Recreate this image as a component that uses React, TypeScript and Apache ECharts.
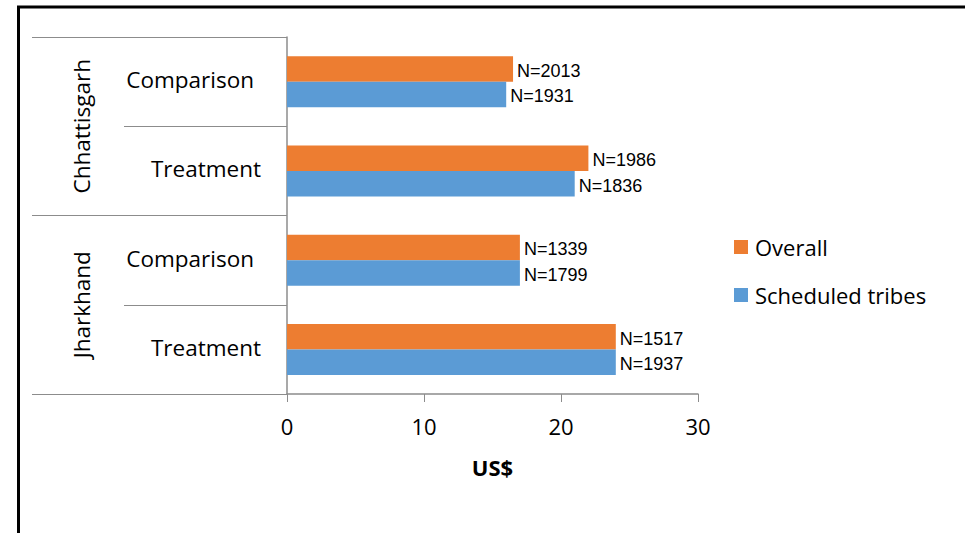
import React, { useEffect, useRef } from "react";
import * as echarts from "echarts";

const states = ["Chhattisgarh", "Jharkhand"];
const arms = ["Comparison", "Treatment"];
const seriesNames = ["Overall", "Scheduled tribes"];
const overallValues = [16.5, 22, 17, 24];
const tribesValues = [16, 21, 17, 24];
const overallN = [2013, 1986, 1339, 1517];
const tribesN = [1931, 1836, 1799, 1937];
const xTicks = { min: 0, max: 30, interval: 10 };
const axisTitle = "US$";

const catKeys = states.flatMap((s) => arms.map((a) => s + "|" + a));

const FONT = "'Open Sans', 'Noto Sans', sans-serif";
const GRAY = "#8c8c8c";

export default function App() {
  const ref = useRef<HTMLDivElement>(null);
  useEffect(() => {
    if (!ref.current) return;
    const chart = echarts.init(ref.current, null, { renderer: "svg" });
    const labelFor = (ns: number[]) => ({
      show: true,
      position: "right",
      distance: 4,
      offset: [0, 2],
      fontFamily: "'Liberation Sans', Arial, sans-serif",
      fontSize: 18,
      color: "#000",
      formatter: (p: any) => "N=" + ns[p.dataIndex],
    });
    chart.setOption({
      animation: false,
      backgroundColor: "#fff",
      graphic: [
        {
          type: "rect",
          shape: { x: 18.5, y: 7, width: 1400, height: 1400 },
          style: { fill: "none", stroke: "#000", lineWidth: 3 },
          silent: true,
        },
      ],
      legend: {
        orient: "vertical",
        left: 734,
        top: 236,
        padding: 0,
        itemWidth: 14,
        itemHeight: 14,
        itemGap: 26,
        icon: "rect",
        data: seriesNames,
        textStyle: { fontFamily: FONT, fontSize: 22, color: "#000", padding: [0, 0, 0, 2] },
      },
      grid: { left: 287, top: 37, width: 411, height: 357, containLabel: false },
      xAxis: {
        type: "value",
        min: xTicks.min,
        max: xTicks.max,
        interval: xTicks.interval,
        splitLine: { show: false },
        axisLine: { show: true, lineStyle: { color: GRAY, width: 1.5 } },
        axisTick: { show: true, length: 8, lineStyle: { color: GRAY } },
        axisLabel: { fontFamily: FONT, fontSize: 22, color: "#000", margin: 21 },
        name: axisTitle,
        nameLocation: "middle",
        nameGap: 62,
        nameTextStyle: { fontFamily: FONT, fontSize: 22, fontWeight: "bold", color: "#000" },
      },
      yAxis: [
        {
          type: "category",
          data: catKeys,
          inverse: true,
          position: "left",
          axisLine: { show: true, lineStyle: { color: GRAY, width: 1.5 } },
          axisTick: { show: true, interval: 0, length: 163, lineStyle: { color: GRAY } },
          axisLabel: {
            interval: 0,
            margin: 26,
            fontFamily: FONT,
            fontSize: 22.5,
            color: "#000",
            formatter: (v: string) => {
              const a = v.split("|")[1];
              return a === arms[0] ? "{c|" + a + "}" : "{t|" + a + "}";
            },
            rich: {
              c: { fontFamily: FONT, fontSize: 22.5, color: "#000", padding: [0, 7, 4, 0] },
              t: { fontFamily: FONT, fontSize: 22.5, color: "#000", padding: [0, 0, 4, 0] },
            },
          },
        },
        {
          type: "category",
          data: states,
          inverse: true,
          position: "left",
          offset: 0,
          axisLine: { show: false },
          axisTick: { show: true, interval: 0, length: 255, lineStyle: { color: GRAY } },
          axisLabel: {
            interval: 0,
            rotate: 90,
            margin: 194,
            fontFamily: FONT,
            fontSize: 22.5,
            color: "#000",
          },
        },
      ],
      series: [
        {
          name: seriesNames[0],
          type: "bar",
          yAxisIndex: 0,
          data: overallValues,
          barWidth: 25.5,
          barGap: "0%",
          itemStyle: { color: "#ED7D31" },
          label: labelFor(overallN),
        },
        {
          name: seriesNames[1],
          type: "bar",
          yAxisIndex: 0,
          data: tribesValues,
          barWidth: 25.5,
          barGap: "0%",
          itemStyle: { color: "#5B9BD5" },
          label: labelFor(tribesN),
        },
      ],
    });
    return () => chart.dispose();
  }, []);
  return (
    <div
      ref={ref}
      style={{ position: "fixed", left: 0, top: 0, width: 965, height: 533, background: "#fff" }}
    />
  );
}
